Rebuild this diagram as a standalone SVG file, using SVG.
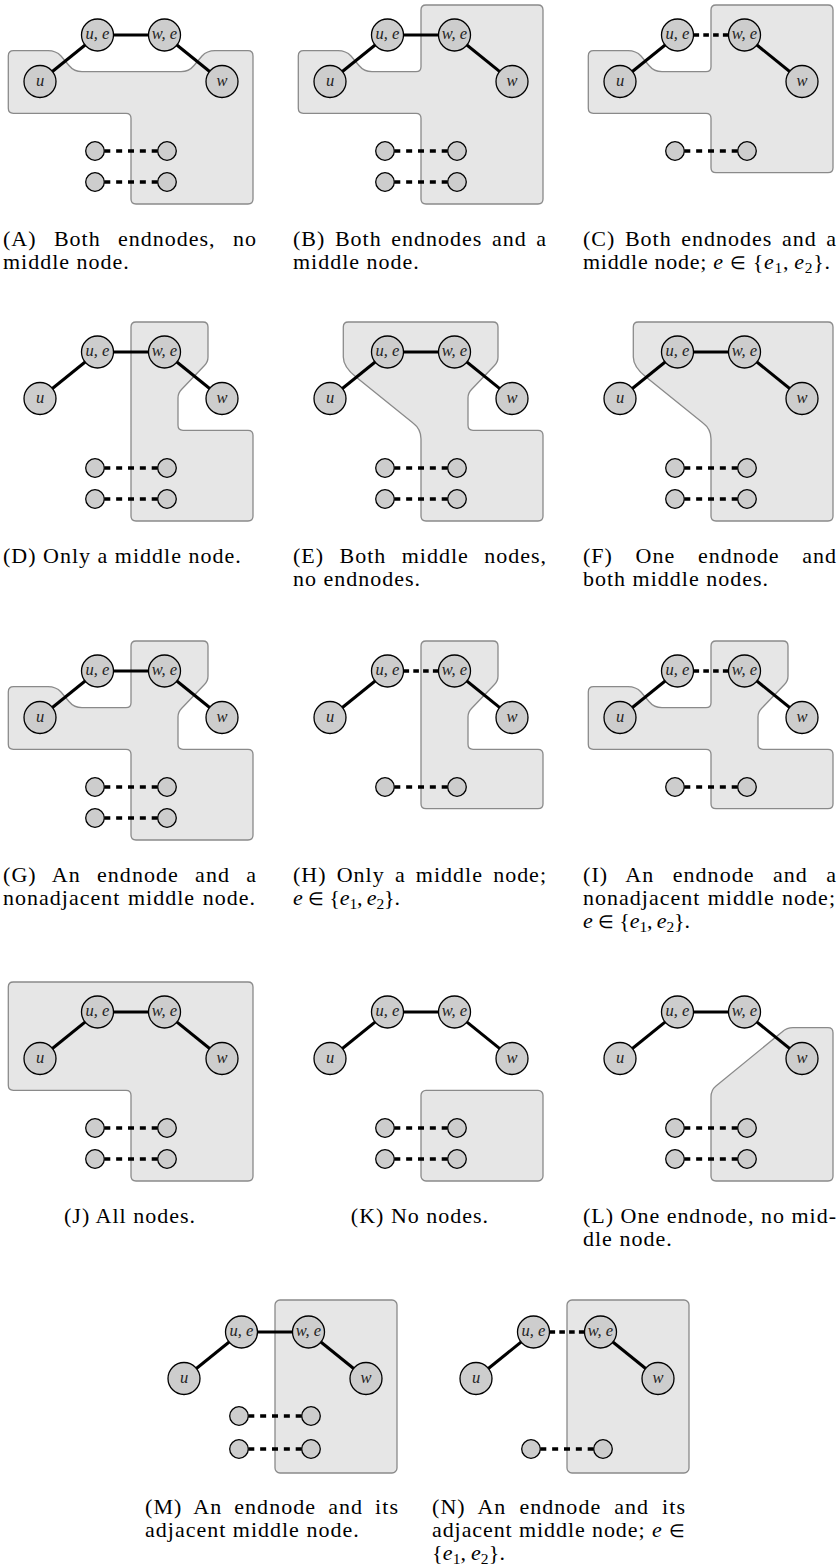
<svg xmlns="http://www.w3.org/2000/svg" width="837" height="1567" viewBox="0 0 837 1567">
<style>
.bg{fill:#fff}
.reg{fill:#e6e6e6;stroke:#8a8a8a;stroke-width:1.3}
.e{stroke:#000;stroke-width:3;fill:none}
.d{stroke:#000;stroke-width:3.3;stroke-dasharray:6 5.85;fill:none}
.dm{stroke:#000;stroke-width:3.3;stroke-dasharray:5.6 4.2;fill:none}
.n{fill:#cdcdcd;stroke:#000;stroke-width:1.3}
.lb{font-family:"Liberation Serif",serif;font-style:italic;font-size:16.5px;fill:#222;text-anchor:middle}
.cap{font-family:"Liberation Serif",serif;font-size:22px;fill:#000;letter-spacing:1px}
.it{font-style:italic}
.sb{font-size:15.5px}
.in{font-size:18px}
</style>
<rect class="bg" x="0" y="0" width="837" height="1567"/>

<!-- Panel A -->
<g id="panel-A" transform="translate(0,0)">
<path class="reg" d="M 8.3 56 Q 8.3 50.7 13.6 50.7 L 48 50.7 Q 56 50.7 61 56 L 69 65.5 Q 74 71.7 82 71.7 L 181 71.7 Q 189 71.7 194 65.5 L 202 56 Q 207 50.7 215 50.7 L 248 50.7 Q 253 50.7 253 56 L 253 199 Q 253 204 248 204 L 136 204 Q 131 204 131 199 L 131 118.3 Q 131 113.3 126 113.3 L 13.3 113.3 Q 8.3 113.3 8.3 108.3 Z"/>
<g id="A-connectors">
<line class="e" x1="40" y1="81.5" x2="97.5" y2="35"/>
<line class="e" x1="97.5" y1="35" x2="164.5" y2="35"/>
<line class="e" x1="164.5" y1="35" x2="222" y2="81.5"/>
<line class="d" x1="104.3" y1="151" x2="157.7" y2="151"/>
<line class="d" x1="104.3" y1="182" x2="157.7" y2="182"/>
</g>
<g id="A-u"><circle class="n" cx="40" cy="81.5" r="16"/><text class="lb" x="40" y="85.5">u</text></g>
<g id="A-ue"><circle class="n" cx="97.5" cy="35" r="16"/><text class="lb" x="97.5" y="39">u, e</text></g>
<g id="A-we"><circle class="n" cx="164.5" cy="35" r="16"/><text class="lb" x="164.5" y="39">w, e</text></g>
<g id="A-w"><circle class="n" cx="222" cy="81.5" r="16"/><text class="lb" x="222" y="85.5">w</text></g>
<g id="A-s1"><circle class="n" cx="95" cy="151" r="9.3"/></g>
<g id="A-s2"><circle class="n" cx="167" cy="151" r="9.3"/></g>
<g id="A-s3"><circle class="n" cx="95" cy="182" r="9.3"/></g>
<g id="A-s4"><circle class="n" cx="167" cy="182" r="9.3"/></g>
</g>

<!-- Panel B -->
<g id="panel-B" transform="translate(290,0)">
<path class="reg" d="M 8.3 56 Q 8.3 50.7 13.6 50.7 L 48 50.7 Q 56 50.7 61 56 L 69 65.5 Q 74 71.7 82 71.7 L 126 71.7 Q 131 71.7 131 66.7 L 131 10 Q 131 5 136 5 L 248 5 Q 253 5 253 10 L 253 199 Q 253 204 248 204 L 136 204 Q 131 204 131 199 L 131 118.3 Q 131 113.3 126 113.3 L 13.3 113.3 Q 8.3 113.3 8.3 108.3 Z"/>
<g id="B-connectors">
<line class="e" x1="40" y1="81.5" x2="97.5" y2="35"/>
<line class="e" x1="97.5" y1="35" x2="164.5" y2="35"/>
<line class="e" x1="164.5" y1="35" x2="222" y2="81.5"/>
<line class="d" x1="104.3" y1="151" x2="157.7" y2="151"/>
<line class="d" x1="104.3" y1="182" x2="157.7" y2="182"/>
</g>
<g id="B-u"><circle class="n" cx="40" cy="81.5" r="16"/><text class="lb" x="40" y="85.5">u</text></g>
<g id="B-ue"><circle class="n" cx="97.5" cy="35" r="16"/><text class="lb" x="97.5" y="39">u, e</text></g>
<g id="B-we"><circle class="n" cx="164.5" cy="35" r="16"/><text class="lb" x="164.5" y="39">w, e</text></g>
<g id="B-w"><circle class="n" cx="222" cy="81.5" r="16"/><text class="lb" x="222" y="85.5">w</text></g>
<g id="B-s1"><circle class="n" cx="95" cy="151" r="9.3"/></g>
<g id="B-s2"><circle class="n" cx="167" cy="151" r="9.3"/></g>
<g id="B-s3"><circle class="n" cx="95" cy="182" r="9.3"/></g>
<g id="B-s4"><circle class="n" cx="167" cy="182" r="9.3"/></g>
</g>

<!-- Panel C -->
<g id="panel-C" transform="translate(580,0)">
<path class="reg" d="M 8.3 56 Q 8.3 50.7 13.6 50.7 L 48 50.7 Q 56 50.7 61 56 L 69 65.5 Q 74 71.7 82 71.7 L 126 71.7 Q 131 71.7 131 66.7 L 131 10 Q 131 5 136 5 L 248 5 Q 253 5 253 10 L 253 167.7 Q 253 172.7 248 172.7 L 136 172.7 Q 131 172.7 131 167.7 L 131 118.3 Q 131 113.3 126 113.3 L 13.3 113.3 Q 8.3 113.3 8.3 108.3 Z"/>
<g id="C-connectors">
<line class="e" x1="40" y1="81.5" x2="97.5" y2="35"/>
<line class="dm" x1="113.5" y1="35" x2="148.5" y2="35"/>
<line class="e" x1="164.5" y1="35" x2="222" y2="81.5"/>
<line class="d" x1="104.3" y1="151" x2="157.7" y2="151"/>
</g>
<g id="C-u"><circle class="n" cx="40" cy="81.5" r="16"/><text class="lb" x="40" y="85.5">u</text></g>
<g id="C-ue"><circle class="n" cx="97.5" cy="35" r="16"/><text class="lb" x="97.5" y="39">u, e</text></g>
<g id="C-we"><circle class="n" cx="164.5" cy="35" r="16"/><text class="lb" x="164.5" y="39">w, e</text></g>
<g id="C-w"><circle class="n" cx="222" cy="81.5" r="16"/><text class="lb" x="222" y="85.5">w</text></g>
<g id="C-s1"><circle class="n" cx="95" cy="151" r="9.3"/></g>
<g id="C-s2"><circle class="n" cx="167" cy="151" r="9.3"/></g>
</g>

<!-- Panel D -->
<g id="panel-D" transform="translate(0,317)">
<path class="reg" d="M 131 10 Q 131 5 136 5 L 203 5 Q 208 5 208 10 L 208 40 Q 208 45 204.5 48.5 L 181.5 72.5 Q 178 76 178 81 L 178 108.3 Q 178 113.3 183 113.3 L 248 113.3 Q 253 113.3 253 118.3 L 253 199 Q 253 204 248 204 L 136 204 Q 131 204 131 199 Z"/>
<g id="D-connectors">
<line class="e" x1="40" y1="81.5" x2="97.5" y2="35"/>
<line class="e" x1="97.5" y1="35" x2="164.5" y2="35"/>
<line class="e" x1="164.5" y1="35" x2="222" y2="81.5"/>
<line class="d" x1="104.3" y1="151" x2="157.7" y2="151"/>
<line class="d" x1="104.3" y1="182" x2="157.7" y2="182"/>
</g>
<g id="D-u"><circle class="n" cx="40" cy="81.5" r="16"/><text class="lb" x="40" y="85.5">u</text></g>
<g id="D-ue"><circle class="n" cx="97.5" cy="35" r="16"/><text class="lb" x="97.5" y="39">u, e</text></g>
<g id="D-we"><circle class="n" cx="164.5" cy="35" r="16"/><text class="lb" x="164.5" y="39">w, e</text></g>
<g id="D-w"><circle class="n" cx="222" cy="81.5" r="16"/><text class="lb" x="222" y="85.5">w</text></g>
<g id="D-s1"><circle class="n" cx="95" cy="151" r="9.3"/></g>
<g id="D-s2"><circle class="n" cx="167" cy="151" r="9.3"/></g>
<g id="D-s3"><circle class="n" cx="95" cy="182" r="9.3"/></g>
<g id="D-s4"><circle class="n" cx="167" cy="182" r="9.3"/></g>
</g>

<!-- Panel E -->
<g id="panel-E" transform="translate(290,317)">
<path class="reg" d="M 53.3 10 Q 53.3 5 58.3 5 L 203 5 Q 208 5 208 10 L 208 40 Q 208 45 204.5 48.5 L 181.5 72.5 Q 178 76 178 81 L 178 108.3 Q 178 113.3 183 113.3 L 248 113.3 Q 253 113.3 253 118.3 L 253 199 Q 253 204 248 204 L 136 204 Q 131 204 131 199 L 131 122 Q 131 112 123 106 L 66 60 Q 53.3 50 53.3 40 Z"/>
<g id="E-connectors">
<line class="e" x1="40" y1="81.5" x2="97.5" y2="35"/>
<line class="e" x1="97.5" y1="35" x2="164.5" y2="35"/>
<line class="e" x1="164.5" y1="35" x2="222" y2="81.5"/>
<line class="d" x1="104.3" y1="151" x2="157.7" y2="151"/>
<line class="d" x1="104.3" y1="182" x2="157.7" y2="182"/>
</g>
<g id="E-u"><circle class="n" cx="40" cy="81.5" r="16"/><text class="lb" x="40" y="85.5">u</text></g>
<g id="E-ue"><circle class="n" cx="97.5" cy="35" r="16"/><text class="lb" x="97.5" y="39">u, e</text></g>
<g id="E-we"><circle class="n" cx="164.5" cy="35" r="16"/><text class="lb" x="164.5" y="39">w, e</text></g>
<g id="E-w"><circle class="n" cx="222" cy="81.5" r="16"/><text class="lb" x="222" y="85.5">w</text></g>
<g id="E-s1"><circle class="n" cx="95" cy="151" r="9.3"/></g>
<g id="E-s2"><circle class="n" cx="167" cy="151" r="9.3"/></g>
<g id="E-s3"><circle class="n" cx="95" cy="182" r="9.3"/></g>
<g id="E-s4"><circle class="n" cx="167" cy="182" r="9.3"/></g>
</g>

<!-- Panel F -->
<g id="panel-F" transform="translate(580,317)">
<path class="reg" d="M 53.3 10 Q 53.3 5 58.3 5 L 248 5 Q 253 5 253 10 L 253 199 Q 253 204 248 204 L 136 204 Q 131 204 131 199 L 131 122 Q 131 112 123 106 L 66 60 Q 53.3 50 53.3 40 Z"/>
<g id="F-connectors">
<line class="e" x1="40" y1="81.5" x2="97.5" y2="35"/>
<line class="e" x1="97.5" y1="35" x2="164.5" y2="35"/>
<line class="e" x1="164.5" y1="35" x2="222" y2="81.5"/>
<line class="d" x1="104.3" y1="151" x2="157.7" y2="151"/>
<line class="d" x1="104.3" y1="182" x2="157.7" y2="182"/>
</g>
<g id="F-u"><circle class="n" cx="40" cy="81.5" r="16"/><text class="lb" x="40" y="85.5">u</text></g>
<g id="F-ue"><circle class="n" cx="97.5" cy="35" r="16"/><text class="lb" x="97.5" y="39">u, e</text></g>
<g id="F-we"><circle class="n" cx="164.5" cy="35" r="16"/><text class="lb" x="164.5" y="39">w, e</text></g>
<g id="F-w"><circle class="n" cx="222" cy="81.5" r="16"/><text class="lb" x="222" y="85.5">w</text></g>
<g id="F-s1"><circle class="n" cx="95" cy="151" r="9.3"/></g>
<g id="F-s2"><circle class="n" cx="167" cy="151" r="9.3"/></g>
<g id="F-s3"><circle class="n" cx="95" cy="182" r="9.3"/></g>
<g id="F-s4"><circle class="n" cx="167" cy="182" r="9.3"/></g>
</g>

<!-- Panel G -->
<g id="panel-G" transform="translate(0,636)">
<path class="reg" d="M 8.3 56 Q 8.3 50.7 13.6 50.7 L 48 50.7 Q 56 50.7 61 56 L 69 65.5 Q 74 71.7 82 71.7 L 126 71.7 Q 131 71.7 131 66.7 L 131 10 Q 131 5 136 5 L 203 5 Q 208 5 208 10 L 208 40 Q 208 45 204.5 48.5 L 181.5 72.5 Q 178 76 178 81 L 178 108.3 Q 178 113.3 183 113.3 L 248 113.3 Q 253 113.3 253 118.3 L 253 199 Q 253 204 248 204 L 136 204 Q 131 204 131 199 L 131 118.3 Q 131 113.3 126 113.3 L 13.3 113.3 Q 8.3 113.3 8.3 108.3 Z"/>
<g id="G-connectors">
<line class="e" x1="40" y1="81.5" x2="97.5" y2="35"/>
<line class="e" x1="97.5" y1="35" x2="164.5" y2="35"/>
<line class="e" x1="164.5" y1="35" x2="222" y2="81.5"/>
<line class="d" x1="104.3" y1="151" x2="157.7" y2="151"/>
<line class="d" x1="104.3" y1="182" x2="157.7" y2="182"/>
</g>
<g id="G-u"><circle class="n" cx="40" cy="81.5" r="16"/><text class="lb" x="40" y="85.5">u</text></g>
<g id="G-ue"><circle class="n" cx="97.5" cy="35" r="16"/><text class="lb" x="97.5" y="39">u, e</text></g>
<g id="G-we"><circle class="n" cx="164.5" cy="35" r="16"/><text class="lb" x="164.5" y="39">w, e</text></g>
<g id="G-w"><circle class="n" cx="222" cy="81.5" r="16"/><text class="lb" x="222" y="85.5">w</text></g>
<g id="G-s1"><circle class="n" cx="95" cy="151" r="9.3"/></g>
<g id="G-s2"><circle class="n" cx="167" cy="151" r="9.3"/></g>
<g id="G-s3"><circle class="n" cx="95" cy="182" r="9.3"/></g>
<g id="G-s4"><circle class="n" cx="167" cy="182" r="9.3"/></g>
</g>

<!-- Panel H -->
<g id="panel-H" transform="translate(290,636)">
<path class="reg" d="M 131 10 Q 131 5 136 5 L 203 5 Q 208 5 208 10 L 208 40 Q 208 45 204.5 48.5 L 181.5 72.5 Q 178 76 178 81 L 178 108.3 Q 178 113.3 183 113.3 L 248 113.3 Q 253 113.3 253 118.3 L 253 167.7 Q 253 172.7 248 172.7 L 136 172.7 Q 131 172.7 131 167.7 Z"/>
<g id="H-connectors">
<line class="e" x1="40" y1="81.5" x2="97.5" y2="35"/>
<line class="dm" x1="113.5" y1="35" x2="148.5" y2="35"/>
<line class="e" x1="164.5" y1="35" x2="222" y2="81.5"/>
<line class="d" x1="104.3" y1="151" x2="157.7" y2="151"/>
</g>
<g id="H-u"><circle class="n" cx="40" cy="81.5" r="16"/><text class="lb" x="40" y="85.5">u</text></g>
<g id="H-ue"><circle class="n" cx="97.5" cy="35" r="16"/><text class="lb" x="97.5" y="39">u, e</text></g>
<g id="H-we"><circle class="n" cx="164.5" cy="35" r="16"/><text class="lb" x="164.5" y="39">w, e</text></g>
<g id="H-w"><circle class="n" cx="222" cy="81.5" r="16"/><text class="lb" x="222" y="85.5">w</text></g>
<g id="H-s1"><circle class="n" cx="95" cy="151" r="9.3"/></g>
<g id="H-s2"><circle class="n" cx="167" cy="151" r="9.3"/></g>
</g>

<!-- Panel I -->
<g id="panel-I" transform="translate(580,636)">
<path class="reg" d="M 8.3 56 Q 8.3 50.7 13.6 50.7 L 48 50.7 Q 56 50.7 61 56 L 69 65.5 Q 74 71.7 82 71.7 L 126 71.7 Q 131 71.7 131 66.7 L 131 10 Q 131 5 136 5 L 203 5 Q 208 5 208 10 L 208 40 Q 208 45 204.5 48.5 L 181.5 72.5 Q 178 76 178 81 L 178 108.3 Q 178 113.3 183 113.3 L 248 113.3 Q 253 113.3 253 118.3 L 253 167.7 Q 253 172.7 248 172.7 L 136 172.7 Q 131 172.7 131 167.7 L 131 118.3 Q 131 113.3 126 113.3 L 13.3 113.3 Q 8.3 113.3 8.3 108.3 Z"/>
<g id="I-connectors">
<line class="e" x1="40" y1="81.5" x2="97.5" y2="35"/>
<line class="dm" x1="113.5" y1="35" x2="148.5" y2="35"/>
<line class="e" x1="164.5" y1="35" x2="222" y2="81.5"/>
<line class="d" x1="104.3" y1="151" x2="157.7" y2="151"/>
</g>
<g id="I-u"><circle class="n" cx="40" cy="81.5" r="16"/><text class="lb" x="40" y="85.5">u</text></g>
<g id="I-ue"><circle class="n" cx="97.5" cy="35" r="16"/><text class="lb" x="97.5" y="39">u, e</text></g>
<g id="I-we"><circle class="n" cx="164.5" cy="35" r="16"/><text class="lb" x="164.5" y="39">w, e</text></g>
<g id="I-w"><circle class="n" cx="222" cy="81.5" r="16"/><text class="lb" x="222" y="85.5">w</text></g>
<g id="I-s1"><circle class="n" cx="95" cy="151" r="9.3"/></g>
<g id="I-s2"><circle class="n" cx="167" cy="151" r="9.3"/></g>
</g>

<!-- Panel J -->
<g id="panel-J" transform="translate(0,977)">
<path class="reg" d="M 8.3 10 Q 8.3 5 13.3 5 L 248 5 Q 253 5 253 10 L 253 199 Q 253 204 248 204 L 136 204 Q 131 204 131 199 L 131 118.3 Q 131 113.3 126 113.3 L 13.3 113.3 Q 8.3 113.3 8.3 108.3 Z"/>
<g id="J-connectors">
<line class="e" x1="40" y1="81.5" x2="97.5" y2="35"/>
<line class="e" x1="97.5" y1="35" x2="164.5" y2="35"/>
<line class="e" x1="164.5" y1="35" x2="222" y2="81.5"/>
<line class="d" x1="104.3" y1="151" x2="157.7" y2="151"/>
<line class="d" x1="104.3" y1="182" x2="157.7" y2="182"/>
</g>
<g id="J-u"><circle class="n" cx="40" cy="81.5" r="16"/><text class="lb" x="40" y="85.5">u</text></g>
<g id="J-ue"><circle class="n" cx="97.5" cy="35" r="16"/><text class="lb" x="97.5" y="39">u, e</text></g>
<g id="J-we"><circle class="n" cx="164.5" cy="35" r="16"/><text class="lb" x="164.5" y="39">w, e</text></g>
<g id="J-w"><circle class="n" cx="222" cy="81.5" r="16"/><text class="lb" x="222" y="85.5">w</text></g>
<g id="J-s1"><circle class="n" cx="95" cy="151" r="9.3"/></g>
<g id="J-s2"><circle class="n" cx="167" cy="151" r="9.3"/></g>
<g id="J-s3"><circle class="n" cx="95" cy="182" r="9.3"/></g>
<g id="J-s4"><circle class="n" cx="167" cy="182" r="9.3"/></g>
</g>

<!-- Panel K -->
<g id="panel-K" transform="translate(290,977)">
<rect class="reg" x="131" y="113.3" width="122" height="90.7" rx="5" ry="5"/>
<g id="K-connectors">
<line class="e" x1="40" y1="81.5" x2="97.5" y2="35"/>
<line class="e" x1="97.5" y1="35" x2="164.5" y2="35"/>
<line class="e" x1="164.5" y1="35" x2="222" y2="81.5"/>
<line class="d" x1="104.3" y1="151" x2="157.7" y2="151"/>
<line class="d" x1="104.3" y1="182" x2="157.7" y2="182"/>
</g>
<g id="K-u"><circle class="n" cx="40" cy="81.5" r="16"/><text class="lb" x="40" y="85.5">u</text></g>
<g id="K-ue"><circle class="n" cx="97.5" cy="35" r="16"/><text class="lb" x="97.5" y="39">u, e</text></g>
<g id="K-we"><circle class="n" cx="164.5" cy="35" r="16"/><text class="lb" x="164.5" y="39">w, e</text></g>
<g id="K-w"><circle class="n" cx="222" cy="81.5" r="16"/><text class="lb" x="222" y="85.5">w</text></g>
<g id="K-s1"><circle class="n" cx="95" cy="151" r="9.3"/></g>
<g id="K-s2"><circle class="n" cx="167" cy="151" r="9.3"/></g>
<g id="K-s3"><circle class="n" cx="95" cy="182" r="9.3"/></g>
<g id="K-s4"><circle class="n" cx="167" cy="182" r="9.3"/></g>
</g>

<!-- Panel L -->
<g id="panel-L" transform="translate(580,977)">
<path class="reg" d="M 131 120 Q 131 113 136 109 L 202 55 Q 207 50.7 213 50.7 L 248 50.7 Q 253 50.7 253 55.7 L 253 199 Q 253 204 248 204 L 136 204 Q 131 204 131 199 Z"/>
<g id="L-connectors">
<line class="e" x1="40" y1="81.5" x2="97.5" y2="35"/>
<line class="e" x1="97.5" y1="35" x2="164.5" y2="35"/>
<line class="e" x1="164.5" y1="35" x2="222" y2="81.5"/>
<line class="d" x1="104.3" y1="151" x2="157.7" y2="151"/>
<line class="d" x1="104.3" y1="182" x2="157.7" y2="182"/>
</g>
<g id="L-u"><circle class="n" cx="40" cy="81.5" r="16"/><text class="lb" x="40" y="85.5">u</text></g>
<g id="L-ue"><circle class="n" cx="97.5" cy="35" r="16"/><text class="lb" x="97.5" y="39">u, e</text></g>
<g id="L-we"><circle class="n" cx="164.5" cy="35" r="16"/><text class="lb" x="164.5" y="39">w, e</text></g>
<g id="L-w"><circle class="n" cx="222" cy="81.5" r="16"/><text class="lb" x="222" y="85.5">w</text></g>
<g id="L-s1"><circle class="n" cx="95" cy="151" r="9.3"/></g>
<g id="L-s2"><circle class="n" cx="167" cy="151" r="9.3"/></g>
<g id="L-s3"><circle class="n" cx="95" cy="182" r="9.3"/></g>
<g id="L-s4"><circle class="n" cx="167" cy="182" r="9.3"/></g>
</g>

<!-- Panel M -->
<g id="panel-M" transform="translate(144,1297)">
<rect class="reg" x="131" y="3" width="122" height="173" rx="5" ry="5"/>
<g id="M-connectors">
<line class="e" x1="40" y1="81.5" x2="97.5" y2="35"/>
<line class="e" x1="97.5" y1="35" x2="164.5" y2="35"/>
<line class="e" x1="164.5" y1="35" x2="222" y2="81.5"/>
<line class="d" x1="104.3" y1="119" x2="157.7" y2="119"/>
<line class="d" x1="104.3" y1="152" x2="157.7" y2="152"/>
</g>
<g id="M-u"><circle class="n" cx="40" cy="81.5" r="16"/><text class="lb" x="40" y="85.5">u</text></g>
<g id="M-ue"><circle class="n" cx="97.5" cy="35" r="16"/><text class="lb" x="97.5" y="39">u, e</text></g>
<g id="M-we"><circle class="n" cx="164.5" cy="35" r="16"/><text class="lb" x="164.5" y="39">w, e</text></g>
<g id="M-w"><circle class="n" cx="222" cy="81.5" r="16"/><text class="lb" x="222" y="85.5">w</text></g>
<g id="M-s1"><circle class="n" cx="95" cy="119" r="9.3"/></g>
<g id="M-s2"><circle class="n" cx="167" cy="119" r="9.3"/></g>
<g id="M-s3"><circle class="n" cx="95" cy="152" r="9.3"/></g>
<g id="M-s4"><circle class="n" cx="167" cy="152" r="9.3"/></g>
</g>

<!-- Panel N -->
<g id="panel-N" transform="translate(436,1297)">
<rect class="reg" x="131" y="3" width="122" height="173" rx="5" ry="5"/>
<g id="N-connectors">
<line class="e" x1="40" y1="81.5" x2="97.5" y2="35"/>
<line class="dm" x1="113.5" y1="35" x2="148.5" y2="35"/>
<line class="e" x1="164.5" y1="35" x2="222" y2="81.5"/>
<line class="d" x1="104.3" y1="152" x2="157.7" y2="152"/>
</g>
<g id="N-u"><circle class="n" cx="40" cy="81.5" r="16"/><text class="lb" x="40" y="85.5">u</text></g>
<g id="N-ue"><circle class="n" cx="97.5" cy="35" r="16"/><text class="lb" x="97.5" y="39">u, e</text></g>
<g id="N-we"><circle class="n" cx="164.5" cy="35" r="16"/><text class="lb" x="164.5" y="39">w, e</text></g>
<g id="N-w"><circle class="n" cx="222" cy="81.5" r="16"/><text class="lb" x="222" y="85.5">w</text></g>
<g id="N-s1"><circle class="n" cx="95" cy="152" r="9.3"/></g>
<g id="N-s2"><circle class="n" cx="167" cy="152" r="9.3"/></g>
</g>

<!-- Captions -->
<g id="captions" class="cap">
<text x="3" y="246" style="word-spacing:10.9px" textLength="254" lengthAdjust="spacing">(A) Both endnodes, no</text>
<text x="3" y="269">middle node.</text>
<text x="293" y="246" style="word-spacing:3.1px" textLength="254" lengthAdjust="spacing">(B) Both endnodes and a</text>
<text x="293" y="269">middle node.</text>
<text x="583" y="246" style="word-spacing:3.1px" textLength="254" lengthAdjust="spacing">(C) Both endnodes and a</text>
<text x="583" y="269" textLength="248" lengthAdjust="spacing">middle node; <tspan class="it">e</tspan> <tspan class="in">∈</tspan> {<tspan class="it">e</tspan><tspan class="sb" dy="4">1</tspan><tspan dy="-4">,&#8201;</tspan><tspan class="it">e</tspan><tspan class="sb" dy="4">2</tspan><tspan dy="-4">}.</tspan></text>

<text x="3" y="563">(D) Only a middle node.</text>
<text x="293" y="563" style="word-spacing:8.9px" textLength="254" lengthAdjust="spacing">(E) Both middle nodes,</text>
<text x="293" y="586">no endnodes.</text>
<text x="583" y="563" style="word-spacing:16.2px" textLength="254" lengthAdjust="spacing">(F) One endnode and</text>
<text x="583" y="586">both middle nodes.</text>

<text x="3" y="882" style="word-spacing:9.6px" textLength="254" lengthAdjust="spacing">(G) An endnode and a</text>
<text x="3" y="905" style="word-spacing:1.1px" textLength="253" lengthAdjust="spacing">nonadjacent middle node.</text>
<text x="293" y="882" style="word-spacing:3.7px" textLength="254" lengthAdjust="spacing">(H) Only a middle node;</text>
<text x="293" y="905" textLength="108" lengthAdjust="spacing"><tspan class="it">e</tspan> <tspan class="in">∈</tspan> {<tspan class="it">e</tspan><tspan class="sb" dy="4">1</tspan><tspan dy="-4">,&#8201;</tspan><tspan class="it">e</tspan><tspan class="sb" dy="4">2</tspan><tspan dy="-4">}.</tspan></text>
<text x="583" y="882" style="word-spacing:11.8px" textLength="254" lengthAdjust="spacing">(I) An endnode and a</text>
<text x="583" y="905" style="word-spacing:0.8px" textLength="253" lengthAdjust="spacing">nonadjacent middle node;</text>
<text x="583" y="928" textLength="108" lengthAdjust="spacing"><tspan class="it">e</tspan> <tspan class="in">∈</tspan> {<tspan class="it">e</tspan><tspan class="sb" dy="4">1</tspan><tspan dy="-4">,&#8201;</tspan><tspan class="it">e</tspan><tspan class="sb" dy="4">2</tspan><tspan dy="-4">}.</tspan></text>

<text x="130" y="1223" text-anchor="middle">(J) All nodes.</text>
<text x="420" y="1223" text-anchor="middle">(K) No nodes.</text>
<text x="583" y="1223" textLength="254" lengthAdjust="spacing">(L) One endnode, no mid-</text>
<text x="583" y="1246">dle node.</text>

<text x="145" y="1514" style="word-spacing:5.5px" textLength="254" lengthAdjust="spacing">(M) An endnode and its</text>
<text x="145" y="1537">adjacent middle node.</text>
<text x="432" y="1514" style="word-spacing:6.4px" textLength="254" lengthAdjust="spacing">(N) An endnode and its</text>
<text x="432" y="1537" textLength="254" lengthAdjust="spacing">adjacent middle node; <tspan class="it">e</tspan> <tspan class="in">∈</tspan></text>
<text x="432" y="1560" textLength="74" lengthAdjust="spacing">{<tspan class="it">e</tspan><tspan class="sb" dy="4">1</tspan><tspan dy="-4">,&#8201;</tspan><tspan class="it">e</tspan><tspan class="sb" dy="4">2</tspan><tspan dy="-4">}.</tspan></text>
</g>
</svg>
